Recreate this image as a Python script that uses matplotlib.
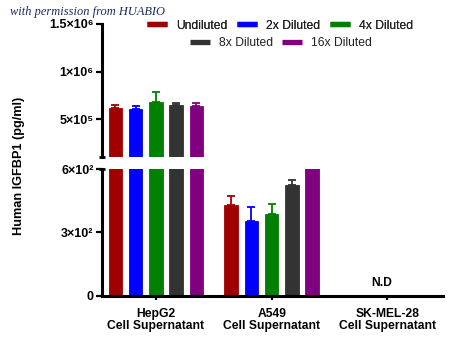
import numpy as np
import matplotlib
matplotlib.use("Agg")
import matplotlib.pyplot as plt
from matplotlib.lines import Line2D

plt.rcParams['font.family'] = ['Liberation Sans', 'DejaVu Sans']

groups = ['HepG2\nCell Supernatant', 'A549\nCell Supernatant', 'SK-MEL-28\nCell Supernatant']
dilutions = ['Undiluted', '2x Diluted', '4x Diluted', '8x Diluted', '16x Diluted']
colors = ['#a00000', '#0000ff', '#008000', '#333333', '#800080']

# mean and upper SD per dilution, one list per cell line
hepg2_mean = [6.2e5, 6.09e5, 6.82e5, 6.48e5, 6.4e5]
hepg2_err = [3.0e4, 3.5e4, 1.0e5, 2.4e4, 2.8e4]
a549_mean = [429, 356, 389, 524, 700]
a549_err = [42, 63, 46, 26, 0]
skmel_mean = [np.nan] * 5
skmel_err = [0] * 5

upper_ticks = [5e5, 1e6, 1.5e6]
upper_labels = ['5×10⁵', '1×10⁶', '1.5×10⁶']
lower_ticks = [0, 300, 600]
lower_labels = ['0', '3×10²', '6×10²']

means = np.array([hepg2_mean, a549_mean, skmel_mean])
errs = np.array([hepg2_err, a549_err, skmel_err])

fig = plt.figure(figsize=(4.5, 3.45), dpi=100)
left, width = 0.2256, 0.759
ax_lo = fig.add_axes([left, 0.1429, width, 0.367])
ax_hi = fig.add_axes([left, 0.545, width, 0.3855])

x = np.arange(len(groups))
step, bw = 0.175, 0.117
for ax in (ax_hi, ax_lo):
    for i, c in enumerate(colors):
        xs = x + (i - 2) * step
        ax.bar(xs, means[:, i], width=bw, color=c, edgecolor=c, linewidth=0.6, zorder=2)
        ax.errorbar(xs, means[:, i], yerr=[np.zeros(3), errs[:, i]], fmt='none',
                    ecolor=c, elinewidth=1.3, capsize=2.6, capthick=1.3, zorder=3)
    ax.set_xlim(-0.47, 2.48)
    for s in ('top', 'right'):
        ax.spines[s].set_visible(False)
    ax.spines['left'].set_linewidth(2.2)
    ax.tick_params(axis='y', length=4.3, width=1.6, pad=1.5, labelsize=9)

ax_hi.set_ylim(1.06e5, 1.5e6)
ax_hi.spines['bottom'].set_visible(False)
ax_hi.set_xticks([])
ax_hi.set_yticks(upper_ticks, upper_labels, fontweight='bold')

ax_lo.set_ylim(0, 600)
ax_lo.spines['bottom'].set_linewidth(2.2)
ax_lo.set_yticks(lower_ticks, lower_labels, fontweight='bold')
ax_lo.set_xticks(x, groups, fontweight='bold', fontsize=8.7, linespacing=1.0)
ax_lo.tick_params(axis='x', length=3, width=1.6, pad=5.5)

# break caps on the split left spine
ax_hi.plot([0], [0], marker='_', ms=5, mew=2, color='black', transform=ax_hi.transAxes, clip_on=False)
ax_lo.plot([0], [1], marker='_', ms=5, mew=2, color='black', transform=ax_lo.transAxes, clip_on=False)

ax_lo.text(1.95, 60, 'N.D', ha='center', va='center', fontsize=8.7, fontweight='bold')

fig.text(0.043, 0.52, 'Human IGFBP1 (pg/ml)', rotation=90, ha='center', va='center',
         fontsize=9.2, fontweight='bold')

fig.text(0.022, 0.966, 'with permission from HUABIO', fontsize=8.9, style='italic',
         family='Liberation Serif', color='#1b2a5c', va='center')

handles = [Line2D([], [], color=c, lw=3.8, solid_capstyle='butt') for c in colors]
kw = dict(loc='center', frameon=False, fontsize=8.7, handlelength=1.65,
          handletextpad=0.75, columnspacing=0.8, borderpad=0, labelcolor='#222222')
leg1 = fig.legend(handles[:3], dilutions[:3], ncol=3, bbox_to_anchor=(280 / 450, 1 - 25.7 / 345), **kw)
fig.add_artist(leg1)
fig.legend(handles[3:], dilutions[3:], ncol=2, bbox_to_anchor=(281 / 450, 1 - 43.3 / 345), **kw)

fig.savefig('out.png', dpi=100)
